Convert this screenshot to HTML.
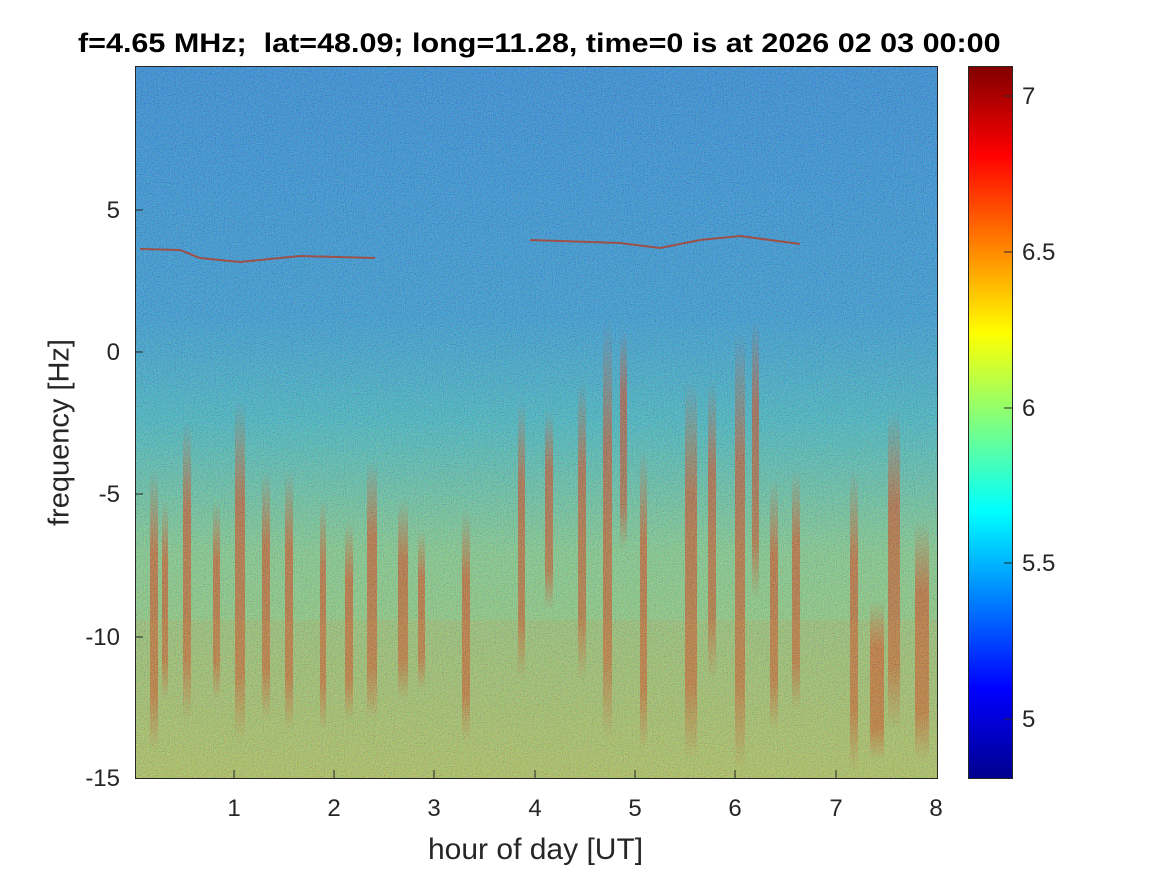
<!DOCTYPE html>
<html><head><meta charset="utf-8"><style>
body{margin:0;background:#fff;width:1167px;height:875px;position:relative;overflow:hidden;font-family:"Liberation Sans",Arial,sans-serif;}
.t{position:absolute;font-size:24px;color:#262626;line-height:1;}
.yl{width:60px;text-align:right;left:60px;}
.xl{width:40px;text-align:center;top:797px;}
</style></head><body>
<svg width="1167" height="875" style="position:absolute;left:0;top:0">
<defs>
<linearGradient id="bg" x1="0" y1="0" x2="0" y2="1">
<stop offset="0" stop-color="#2a86d8"/>
<stop offset="0.35" stop-color="#3096d4"/>
<stop offset="0.5" stop-color="#40b4c0"/>
<stop offset="0.68" stop-color="#80c888"/>
<stop offset="1" stop-color="#a8c860"/>
</linearGradient>
<linearGradient id="jet" x1="0" y1="1" x2="0" y2="0">
<stop offset="0" stop-color="#00008f"/>
<stop offset="0.125" stop-color="#0000ff"/>
<stop offset="0.375" stop-color="#00ffff"/>
<stop offset="0.625" stop-color="#ffff00"/>
<stop offset="0.875" stop-color="#ff0000"/>
<stop offset="1" stop-color="#800000"/>
</linearGradient>
<linearGradient id="st" x1="0" y1="0" x2="0" y2="1">
<stop offset="0" stop-color="#e03000" stop-opacity="0"/>
<stop offset="0.3" stop-color="#e03000" stop-opacity="0.6"/>
<stop offset="0.8" stop-color="#d83000" stop-opacity="0.55"/>
<stop offset="1" stop-color="#e03000" stop-opacity="0"/>
</linearGradient>
<filter id="n" x="0" y="0" width="100%" height="100%">
<feTurbulence type="fractalNoise" baseFrequency="0.9" numOctaves="1" seed="3"/>
<feColorMatrix type="matrix" values="2 0 0 0 -0.6  0 2 0 0 -0.5  0 0 2 0 -0.5  0 0 0 0 0.25"/>
</filter>
<clipPath id="c"><rect x="135" y="66" width="802" height="712"/></clipPath>
</defs>
<g clip-path="url(#c)">
<rect x="135" y="66" width="802" height="712" fill="url(#bg)"/>
<g fill="url(#st)">
<rect x="150" y="470" width="8" height="280"/><rect x="162" y="500" width="6" height="200"/>
<rect x="183" y="420" width="8" height="300"/><rect x="213" y="500" width="7" height="200"/>
<rect x="235" y="400" width="10" height="340"/><rect x="262" y="470" width="8" height="250"/>
<rect x="285" y="470" width="8" height="260"/><rect x="320" y="500" width="6" height="230"/>
<rect x="345" y="520" width="8" height="200"/><rect x="367" y="460" width="10" height="260"/>
<rect x="398" y="500" width="10" height="200"/><rect x="418" y="530" width="7" height="160"/>
<rect x="462" y="510" width="8" height="230"/><rect x="518" y="400" width="7" height="280"/>
<rect x="545" y="410" width="8" height="200"/><rect x="578" y="380" width="8" height="300"/>
<rect x="603" y="320" width="9" height="420"/><rect x="620" y="330" width="7" height="220"/>
<rect x="640" y="450" width="7" height="300"/><rect x="685" y="380" width="12" height="380"/>
<rect x="708" y="380" width="8" height="300"/><rect x="735" y="330" width="10" height="440"/>
<rect x="752" y="320" width="7" height="280"/><rect x="770" y="480" width="8" height="250"/>
<rect x="792" y="470" width="8" height="240"/><rect x="850" y="470" width="8" height="300"/>
<rect x="870" y="600" width="14" height="160"/><rect x="888" y="410" width="12" height="320"/>
<rect x="915" y="520" width="14" height="240"/>
</g>
<rect x="135" y="620" width="802" height="158" fill="#e09030" opacity="0.15"/>
<rect x="135" y="66" width="802" height="712" filter="url(#n)"/>
<path d="M140 249 L180 250 L200 258 L240 262 L300 256 L375 258" stroke="#c03010" stroke-width="2" fill="none" opacity="0.7"/>
<path d="M530 240 L620 243 L660 248 L700 240 L740 236 L800 244" stroke="#c03010" stroke-width="2" fill="none" opacity="0.7"/>
</g>
<rect x="135.5" y="66.5" width="802" height="712" fill="none" stroke="#262626" stroke-width="1"/>
<rect x="968" y="66" width="44" height="712" fill="url(#jet)"/>
<rect x="968.5" y="66.5" width="44" height="712" fill="none" stroke="#262626"/>
<g stroke="#262626">
<line x1="135" y1="210" x2="143" y2="210"/><line x1="135" y1="352" x2="143" y2="352"/><line x1="135" y1="494" x2="143" y2="494"/><line x1="135" y1="637" x2="143" y2="637"/>
<line x1="234" y1="778" x2="234" y2="770"/><line x1="334" y1="778" x2="334" y2="770"/><line x1="434" y1="778" x2="434" y2="770"/><line x1="535" y1="778" x2="535" y2="770"/><line x1="635" y1="778" x2="635" y2="770"/><line x1="735" y1="778" x2="735" y2="770"/><line x1="836" y1="778" x2="836" y2="770"/>
<line x1="1004" y1="96" x2="1012" y2="96"/><line x1="1004" y1="252" x2="1012" y2="252"/><line x1="1004" y1="408" x2="1012" y2="408"/><line x1="1004" y1="563" x2="1012" y2="563"/><line x1="1004" y1="719" x2="1012" y2="719"/>
</g>
</svg>
<div class="t" style="left:78px;top:30px;font-weight:bold;font-size:27px;color:#000;white-space:nowrap;transform-origin:0 0;transform:scaleX(1.13)">f=4.65 MHz;&nbsp; lat=48.09; long=11.28, time=0 is at 2026 02 03 00:00</div>
<div class="t yl" style="top:199px">5</div>
<div class="t yl" style="top:341px">0</div>
<div class="t yl" style="top:483px">-5</div>
<div class="t yl" style="top:626px">-10</div>
<div class="t yl" style="top:767px">-15</div>
<div class="t xl" style="left:214px">1</div><div class="t xl" style="left:314px">2</div><div class="t xl" style="left:414px">3</div><div class="t xl" style="left:515px">4</div><div class="t xl" style="left:615px">5</div><div class="t xl" style="left:715px">6</div><div class="t xl" style="left:816px">7</div><div class="t xl" style="left:916px">8</div>
<div class="t" style="left:428px;top:835px;font-size:30px">hour of day [UT]</div>
<div class="t" style="left:-40px;top:418px;font-size:29px;transform:rotate(-90deg);width:200px;text-align:center">frequency [Hz]</div>
<div class="t" style="left:1022px;top:85px">7</div>
<div class="t" style="left:1022px;top:241px">6.5</div>
<div class="t" style="left:1022px;top:397px">6</div>
<div class="t" style="left:1022px;top:552px">5.5</div>
<div class="t" style="left:1022px;top:708px">5</div>
</body></html>
